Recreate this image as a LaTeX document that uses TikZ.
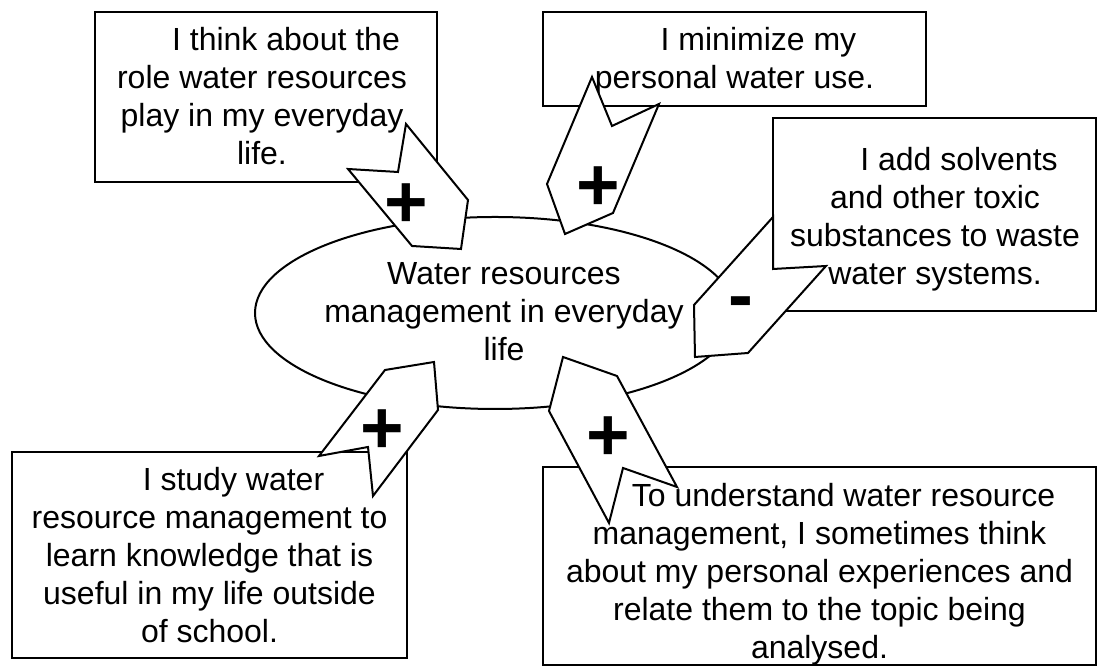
\documentclass[tikz,border=0pt]{standalone}
\usepackage{fontspec}
\setmainfont{Liberation Sans}
\usetikzlibrary{shapes.geometric,fit}

\begin{document}
\begin{tikzpicture}[x=0.375pt,y=-0.375pt,line width=0.75pt,
  box/.style={draw,fill=white,inner sep=0pt},
  txt/.style={align=center,inner sep=0pt,anchor=north,font=\fontsize{12}{14.25}\selectfont},
  sign/.style={inner sep=0pt,font=\fontsize{28}{28}\selectfont\bfseries}]
  \useasboundingbox (0,0) rectangle (1099,668);

  % the topic in the middle
  \node[draw,ellipse,minimum width=180pt,minimum height=72pt,inner sep=0pt] (wrm) at (495,313) {};
  \node[txt] (wrmtext) at (504,261) {Water resources\\management in everyday\\life};

  % the five statements
  \node[box,fit={(95,12) (437,182)}] (thinkbox) {};
  \node[txt] (thinktext) at (262,26) {\hspace*{18pt}I think about the\\role water resources\\play in my everyday\\life.};
  \node[box,fit={(543,12) (926,106)}] (minbox) {};
  \node[txt] (mintext) at (734.5,26) {\hspace*{18pt}I minimize my\\personal water use.};
  \node[box,fit={(773,118) (1096,311)}] (toxbox) {};
  \node[txt] (toxtext) at (935,146) {\hspace*{18pt}I add solvents\\and other toxic\\substances to waste\\water systems.};
  \node[box,fit={(12,452) (407,658)}] (studybox) {};
  \node[txt] (studytext) at (209.5,466) {\hspace*{18pt}I study water\\resource management to\\learn knowledge that is\\useful in my life outside\\of school.};
  \node[box,fit={(543,467) (1096,665)}] (expbox) {};
  \node[txt] (exptext) at (819.5,482) {\hspace*{18pt}To understand water resource\\management, I sometimes think\\about my personal experiences and\\relate them to the topic being\\analysed.};

  % block arrows, notched end on the statement
  \filldraw[fill=white] (406,124) -- (468,200) -- (461,249) -- (412,246) -- (348,169) -- (398,172) -- cycle;
  \node[sign] (thinksign) at (406,206) {+};
  \filldraw[fill=white] (592,77) -- (612,126) -- (659,104) -- (613,213) -- (565,234) -- (547,184) -- cycle;
  \node[sign] (minsign) at (598,189) {+};
  \filldraw[fill=white] (773,217) -- (773,269) -- (826,266) -- (748,353) -- (695,357) -- (694,305) -- cycle;
  \node[sign] (toxsign) at (741,309) {-};
  \filldraw[fill=white] (434,362) -- (385,370) -- (319,456) -- (368,447) -- (373,496) -- (438,410) -- cycle;
  \node[sign] (studysign) at (382,432) {+};
  \filldraw[fill=white] (563,357) -- (617,376) -- (677,487) -- (623,468) -- (609,523) -- (549,411) -- cycle;
  \node[sign] (expsign) at (608,439) {+};
\end{tikzpicture}
\end{document}
